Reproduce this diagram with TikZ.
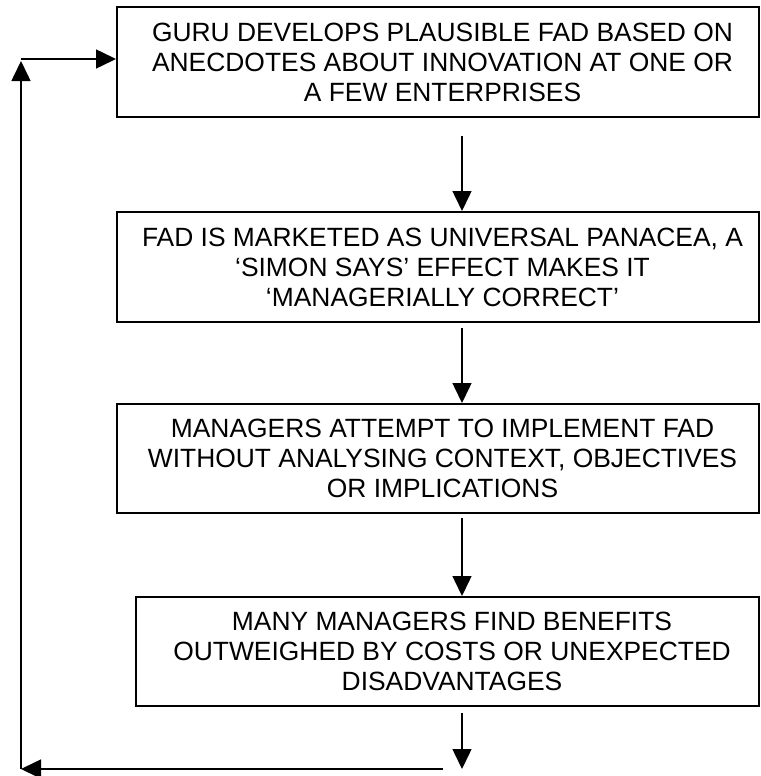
\documentclass[tikz,border=0pt]{standalone}
\usepackage{fontspec}
\setmainfont{Liberation Sans}
\usetikzlibrary{arrows.meta,calc}
\newcommand{\shiftln}{\hspace*{9pt}}
\begin{document}
\begin{tikzpicture}[x=1pt,y=-1pt,
  box/.style={draw, line width=2pt, align=center, inner sep=0pt,
    font=\fontsize{26.4}{30}\selectfont, minimum height=110pt},
  arr/.style={line width=1.5pt, -{Triangle[length=20pt,width=19pt]}}]
\useasboundingbox (0,0) rectangle (760,776);
\fill[white] (0,0) rectangle (760,776);
\node[box, minimum width=642pt] (b1) at (438,62)
  {\shiftln GURU DEVELOPS PLAUSIBLE FAD BASED ON\\\shiftln ANECDOTES ABOUT INNOVATION AT ONE OR\\\shiftln A FEW ENTERPRISES};
\node[box, minimum width=642pt] (b2) at (438,267)
  {\shiftln FAD IS MARKETED AS UNIVERSAL PANACEA, A\\\shiftln ‘SIMON SAYS’ EFFECT MAKES IT\\\shiftln ‘MANAGERIALLY CORRECT’};
\node[box, minimum width=642pt, minimum height=109pt] (b3) at (438,458.5)
  {\shiftln MANAGERS ATTEMPT TO IMPLEMENT FAD\\\shiftln WITHOUT ANALYSING CONTEXT, OBJECTIVES\\\shiftln OR IMPLICATIONS};
\node[box, minimum width=623pt, minimum height=109pt] (b4) at (447.5,651.5)
  {\shiftln MANY MANAGERS FIND BENEFITS\\\shiftln OUTWEIGHED BY COSTS OR UNEXPECTED\\\shiftln DISADVANTAGES};
\coordinate (ax) at (462,0);
\coordinate (s1) at ($(b1.south -| ax)+(0,18)$);
\coordinate (s2) at ($(b2.south -| ax)+(0,5)$);
\coordinate (s3) at ($(b3.south -| ax)+(0,4)$);
\coordinate (s4) at ($(b4.south -| ax)+(0,6)$);
\coordinate (e4) at (462,769);
\draw[arr] (s1) -- (b2.north -| ax);
\draw[arr] (s2) -- (b3.north -| ax);
\draw[arr] (s3) -- (b4.north -| ax);
\draw[arr] (s4) -- (e4);
\coordinate (fb) at (443,769);
\coordinate (c1) at (21,769);
\coordinate (c3) at (21,61);
\coordinate (c2) at (21,59);
\draw[arr] (fb) -- (c1);
\draw[arr] (c1) -- (c3);
\draw[arr] (c2) -- (c2 -| b1.west);
\end{tikzpicture}
\end{document}
